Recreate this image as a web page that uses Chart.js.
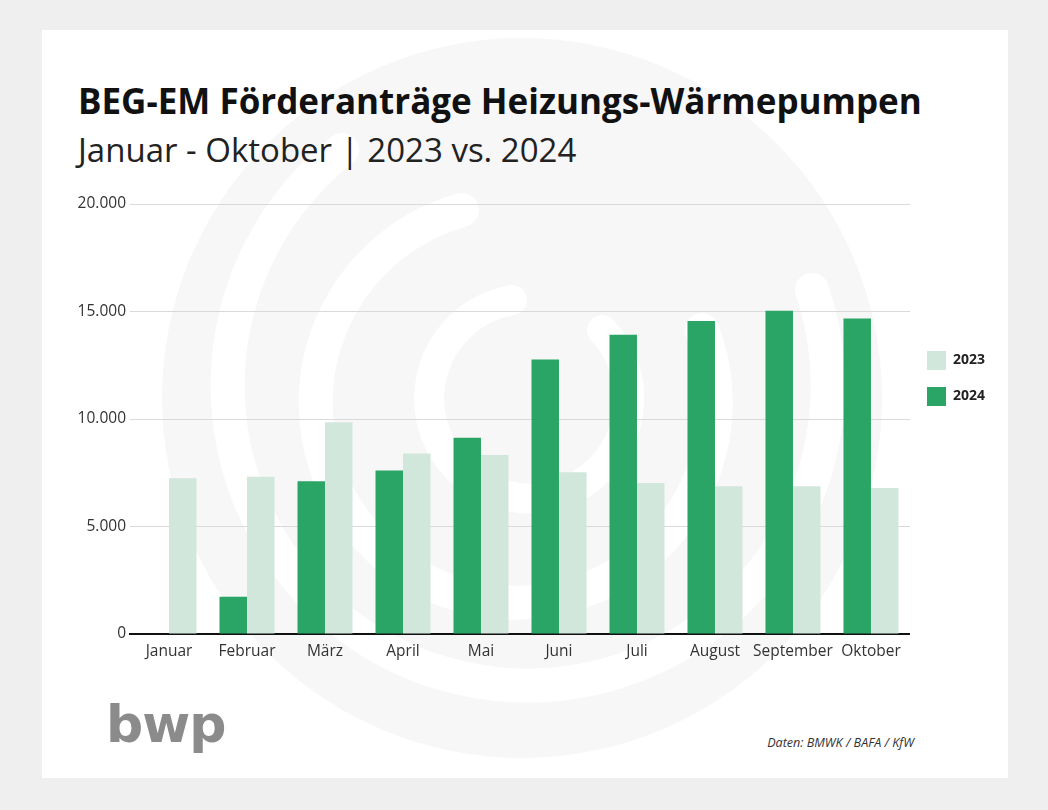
<!DOCTYPE html>
<html>
<head>
<meta charset="utf-8">
<script src="https://cdn.jsdelivr.net/npm/chart.js@4"></script>
<style>
  html, body { margin:0; padding:0; background:#efefef; }
  body { width:1048px; height:810px; position:relative; overflow:hidden; font-family:'Open Sans', sans-serif; }
  #card { position:absolute; left:42px; top:30px; width:966px; height:748px; background:#fff; overflow:hidden; }
  #wm { position:absolute; left:0; top:0; }
  #title { position:absolute; left:36px; top:53px; font-size:35px; font-weight:700; color:#111; line-height:35px; white-space:nowrap; }
  #subtitle { position:absolute; left:36px; top:103px; font-size:33px; font-weight:400; color:#222; line-height:33px; white-space:nowrap; }
  #logo { position:absolute; left:64px; top:668px; font-family:'DejaVu Sans', sans-serif; font-weight:700; font-size:52px; color:#8b8b8b; letter-spacing:-1px; line-height:52px; }
  #source { position:absolute; right:94px; top:704px; font-size:12.6px; font-style:italic; color:#333; }
  #chartWrap { position:absolute; left:60px; top:190px; width:935px; height:480px; }
</style>
</head>
<body>
<div id="card">
  <svg id="wm" width="966" height="748">
    <circle cx="480" cy="368" r="360" fill="#f7f7f7"/>
    <path d="M 300 120 A 300 300 0 1 0 770 260" fill="none" stroke="#fff" stroke-width="34" stroke-linecap="round"/>
    <path d="M 420 180 A 200 200 0 1 0 660 300" fill="none" stroke="#fff" stroke-width="34" stroke-linecap="round"/>
    <path d="M 470 270 A 100 100 0 1 0 560 300" fill="none" stroke="#fff" stroke-width="30" stroke-linecap="round"/>
  </svg>
  <div id="title">BEG-EM Förderanträge Heizungs-Wärmepumpen</div>
  <div id="subtitle">Januar - Oktober | 2023 vs. 2024</div>
  <div id="logo">bwp</div>
  <div id="source">Daten: BMWK / BAFA / KfW</div>
</div>
<div id="chartWrap"><canvas id="c"></canvas></div>
<script>
const months = ['Januar','Februar','März','April','Mai','Juni','Juli','August','September','Oktober'];
const values2024 = [null, 1730, 7100, 7600, 9130, 12770, 13920, 14560, 15040, 14680];
const values2023 = [7250, 7310, 9850, 8400, 8330, 7520, 7020, 6870, 6870, 6790];
const seriesLabels = ['2024', '2023'];
const yTicks = [0, 5000, 10000, 15000, 20000];

const colorDark = '#2aa565';
const colorLight = '#d2e7dc';

function fmt(v) {
  return String(v).replace(/\B(?=(\d{3})+(?!\d))/g, '.');
}

new Chart(document.getElementById('c'), {
  type: 'bar',
  data: {
    labels: months,
    datasets: [
      { label: seriesLabels[0], data: values2024, backgroundColor: colorDark, borderWidth: 0 },
      { label: seriesLabels[1], data: values2023, backgroundColor: colorLight, borderWidth: 0 }
    ]
  },
  options: {
    responsive: true,
    maintainAspectRatio: false,
    animation: false,
    categoryPercentage: 0.705,
    barPercentage: 1.0,
    layout: { padding: { top: 14, right: 0, bottom: 0, left: 0 } },
    plugins: {
      tooltip: { enabled: false },
      legend: {
        position: 'right',
        align: 'start',
        reverse: true,
        title: { display: true, text: ' ', font: { size: 10, lineHeight: 1 }, padding: { top: 120, bottom: 0 } },
        labels: {
          boxWidth: 19,
          boxHeight: 19,
          padding: 17,
          color: '#222',
          font: { family: 'Open Sans', size: 14, weight: '700' }
        }
      }
    },
    scales: {
      x: {
        grid: { display: false, drawTicks: false },
        border: { display: true, color: '#111', width: 2 },
        ticks: { color: '#333', padding: 8, maxRotation: 0, minRotation: 0, autoSkip: false, font: { family: 'Open Sans', size: 15.5 } },
        afterFit: s => { s.height = 36; }
      },
      y: {
        min: 0,
        max: 20000,
        afterBuildTicks: s => { s.ticks = yTicks.map(v => ({ value: v })); },
        grid: { color: '#d9d9d9', lineWidth: 1, drawTicks: false },
        border: { display: false },
        ticks: { color: '#333', padding: 4, font: { family: 'Open Sans', size: 15.5 }, callback: v => fmt(v) },
        afterFit: s => { s.width = 70; }
      }
    }
  }
});
</script>
</body>
</html>
